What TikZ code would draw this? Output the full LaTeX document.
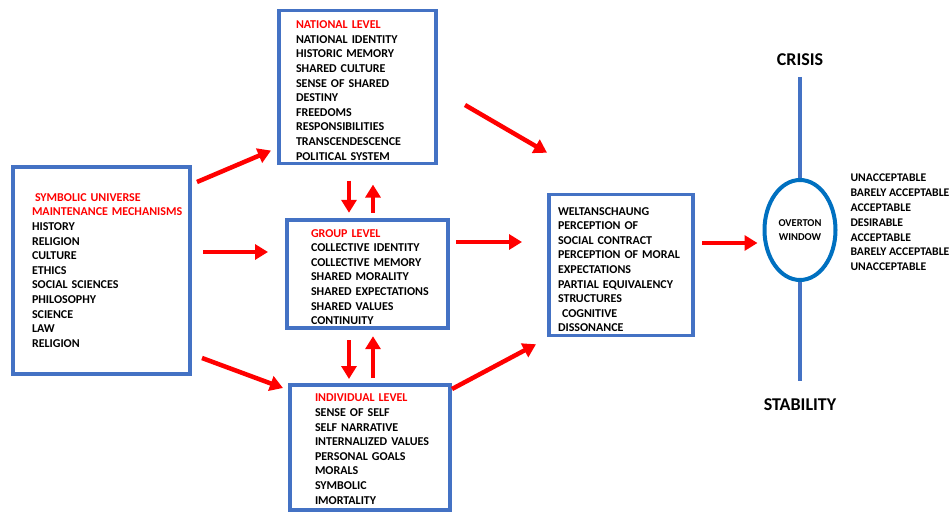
\documentclass[tikz,border=0pt]{standalone}
\usepackage{fontspec}
\setmainfont{Carlito}
\usetikzlibrary{arrows.meta, shapes.geometric}
\definecolor{boxblue}{RGB}{68,114,196}
\definecolor{ringblue}{RGB}{0,112,192}

\begin{document}
\begin{tikzpicture}[x=1pt, y=-1pt,
        level/.style={rectangle, draw=boxblue, line width=3.5pt, outer sep=0pt, inner xsep=0pt, align=left, font=\fontsize{12}{14.6}\selectfont\bfseries, execute at begin node={\hyphenpenalty=10000\exhyphenpenalty=10000}},
        window/.style={ellipse, draw=ringblue, line width=4pt, fill=white, outer sep=0pt, inner sep=0pt, minimum width=71pt, minimum height=100pt, align=center, font=\fontsize{10.5}{14}\selectfont\bfseries},
        pole/.style={font=\fontsize{18}{20}\selectfont\bfseries},
        rangelist/.style={align=left, font=\fontsize{11.7}{14.8}\selectfont\bfseries},
        flow/.style={-{Triangle[length=13pt,width=15pt]}, line width=4.5pt, red},
        axis/.style={draw=boxblue, line width=4.5pt}
        ]
        \useasboundingbox (0,0) rectangle (951,513);

        % Nodes
        \node (symbolic) [level, minimum width=177pt, minimum height=207pt, text width=139pt] at (101.5,270.5)
            {\textcolor{red}{\hspace{3pt}SYMBOLIC UNIVERSE}\\ \textcolor{red}{MAINTENANCE~MECHANISMS}\\ HISTORY\\ RELIGION\\ CULTURE\\ ETHICS\\ SOCIAL SCIENCES\\ PHILOSOPHY\\ SCIENCE\\ LAW\\ RELIGION};
        \node (national) [level, minimum width=157pt, minimum height=148pt, text width=123pt] at (357.5,87)
            {\rule{0pt}{15pt}\textcolor{red}{NATIONAL LEVEL}\\ NATIONAL IDENTITY\\ HISTORIC MEMORY\\ SHARED CULTURE\\ SENSE OF SHARED\\ DESTINY\\ FREEDOMS\\ RESPONSIBILITIES\\ TRANSCENDESCENCE\\ POLITICAL SYSTEM};
        \node (group) [level, minimum width=161pt, minimum height=108pt, text width=113pt] at (367.5,274)
            {\rule{0pt}{14pt}\textcolor{red}{GROUP LEVEL}\\ COLLECTIVE~IDENTITY\\ COLLECTIVE~MEMORY\\ SHARED MORALITY\\ SHARED~EXPECTATIONS\\ SHARED VALUES\\ CONTINUITY};
        \node (individual) [level, minimum width=160pt, minimum height=125pt, text width=110pt] at (370,447.5)
            {\rule{0pt}{11pt}\textcolor{red}{INDIVIDUAL LEVEL}\\ SENSE OF SELF\\ SELF NARRATIVE\\ INTERNALIZED~VALUES\\ PERSONAL GOALS\\ MORALS\\ SYMBOLIC\\ IMORTALITY};
        \node (worldview) [level, minimum width=144pt, minimum height=134pt, text width=126pt] at (621,265)
            {\rule{0pt}{17pt}WELTANSCHAUNG\\ PERCEPTION OF\\ SOCIAL CONTRACT\\ PERCEPTION~OF~MORAL\\ EXPECTATIONS\\ PARTIAL~EQUIVALENCY\\ STRUCTURES\\ \hspace{4pt}COGNITIVE\\ DISSONANCE};
        \node (crisis) [pole] at (800,60) {CRISIS};
        \node (stability) [pole] at (800,405) {STABILITY};
        \coordinate (axtop) at (800,77);
        \coordinate (axbottom) at (800,381);
        \draw [axis] (axtop) -- (800,230) -- (axbottom);
        \node (overton) [window] at (800,230) {OVERTON\\ WINDOW};
        \node (range) [rangelist, anchor=west] at (847,222.5)
            {UNACCEPTABLE\\ BARELY ACCEPTABLE\\ ACCEPTABLE\\ DESIRABLE\\ ACCEPTABLE\\ BARELY ACCEPTABLE\\ UNACCEPTABLE};

        % Arrows
        \draw [flow] ([shift={(7,15)}]symbolic.north east) -- ([shift={(-8,-13)}]national.south west);
        \draw [flow] ([shift={(13,-18.5)}]symbolic.east) -- ([shift={(-19,-22)}]group.west);
        \draw [flow] ([shift={(12,-16)}]symbolic.south east) -- ([shift={(-7,3)}]individual.north west);
        \draw [flow] ([shift={(-8.5,17)}]national.south) -- ([shift={(-18.5,-7)}]group.north);
        \draw [flow] ([shift={(5.5,-7)}]group.north) -- ([shift={(15.5,21)}]national.south);
        \draw [flow] ([shift={(-18.5,12)}]group.south) -- ([shift={(-21,-6)}]individual.north);
        \draw [flow] ([shift={(3,-7)}]individual.north) -- ([shift={(5.5,8)}]group.south);
        \draw [flow] ([shift={(29,18)}]national.east) -- ([shift={(-2,-42)}]worldview.north west);
        \draw [flow] ([shift={(8,-32)}]group.east) -- ([shift={(-27,-23)}]worldview.west);
        \draw [flow] ([shift={(2,4)}]individual.north east) -- ([shift={(-13,9)}]worldview.south west);
        \draw [flow] ([shift={(9,-22)}]worldview.east) -- ([shift={(-7,13)}]overton.west);

\end{tikzpicture}
\end{document}
